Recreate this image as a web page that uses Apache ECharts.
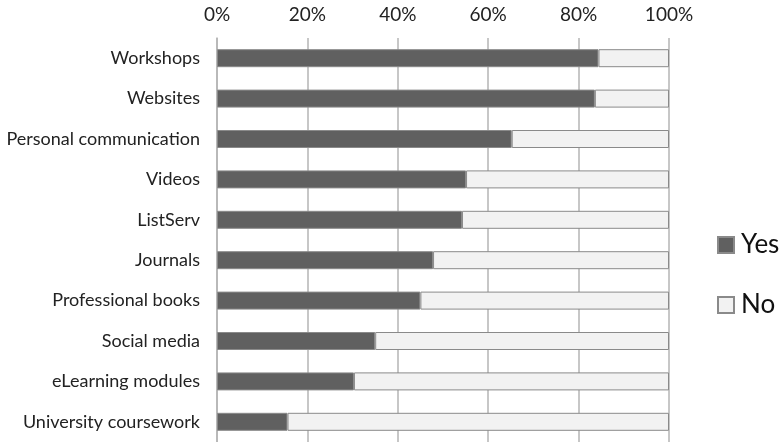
<!DOCTYPE html>
<html>
<head>
<meta charset="utf-8">
<script src="https://cdn.jsdelivr.net/npm/echarts@6/dist/echarts.min.js"></script>
<style>
html, body { margin: 0; padding: 0; background: #fff; }
#chart { width: 781px; height: 442px; }
</style>
</head>
<body>
<div id="chart"></div>
<script>
var categories = ['Workshops', 'Websites', 'Personal communication', 'Videos', 'ListServ',
    'Journals', 'Professional books', 'Social media', 'eLearning modules', 'University coursework'];
var yesValues = [84.4, 83.6, 65.2, 55.1, 54.2, 47.8, 45.0, 35.0, 30.3, 15.6];
var noValues = [15.6, 16.4, 34.8, 44.9, 45.8, 52.2, 55.0, 65.0, 69.7, 84.4];
var xTicks = [0, 20, 40, 60, 80, 100];

var myChart = echarts.init(document.getElementById('chart'));
var font = 'Lato, "Open Sans", sans-serif';

var option = {
    animation: false,
    textStyle: { fontFamily: font },
    grid: { left: 217, top: 38, width: 452, height: 405 },
    legend: {
        orient: 'vertical',
        left: 717,
        top: 232,
        padding: 0,
        itemWidth: 16,
        itemHeight: 16,
        itemGap: 34,
        icon: 'rect',
        textStyle: { fontSize: 26, color: '#111', fontFamily: font, padding: [0, 0, 0, 2] },
        data: ['Yes', 'No']
    },
    xAxis: {
        type: 'value',
        position: 'top',
        min: 0,
        max: 100,
        interval: 20,
        axisLine: { show: false },
        axisTick: { show: false },
        axisLabel: {
            formatter: function (v) { return xTicks.indexOf(v) >= 0 ? v + '%' : ''; },
            fontSize: 19, color: '#222', margin: 14
        },
        splitLine: { lineStyle: { color: '#b4b4b4', width: 1.5 } }
    },
    yAxis: {
        type: 'category',
        inverse: true,
        data: categories,
        axisLine: { lineStyle: { color: '#b4b4b4', width: 1.5 } },
        axisTick: { length: 5, lineStyle: { color: '#b4b4b4' } },
        axisLabel: { fontSize: 18, color: '#222', margin: 17 }
    },
    series: [
        {
            name: 'Yes', type: 'bar', stack: 'total', data: yesValues, barWidth: 18,
            itemStyle: { color: '#606060', borderColor: '#8a8a8a', borderWidth: 1 }
        },
        {
            name: 'No', type: 'bar', stack: 'total', data: noValues, barWidth: 18,
            itemStyle: { color: '#f2f2f2', borderColor: '#8a8a8a', borderWidth: 1 }
        }
    ]
};

myChart.setOption(option);
</script>
</body>
</html>
